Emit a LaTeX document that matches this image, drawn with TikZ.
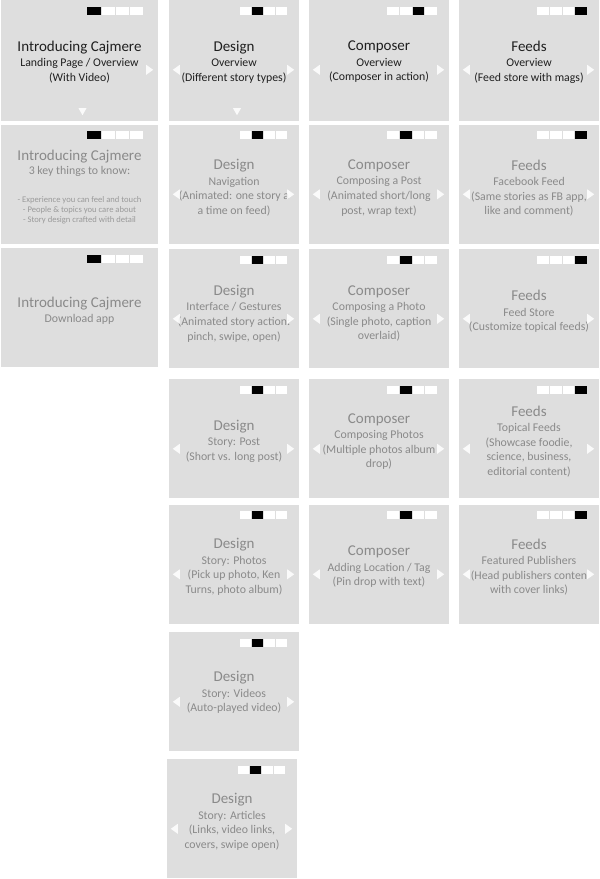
\documentclass[tikz,border=0pt]{standalone}
\usepackage{fontspec}
\setmainfont{Carlito}
\usepackage{tikz}
\usetikzlibrary{positioning,calc}
\usepackage{xcolor}

\definecolor{cardgray}{HTML}{DEDEDE}
\definecolor{textgray}{HTML}{8A8A8A}
\definecolor{bulletgray}{HTML}{9A9A9A}

\tikzset{
  card/.style={fill=cardgray,draw=none,inner sep=0pt,minimum height=119pt},
  cardtop/.style={minimum height=121pt},
  colA/.style={minimum width=157pt},
  colB/.style={minimum width=130pt},
  colC/.style={minimum width=140pt},
  cardtext/.style={align=center,inner sep=0pt,text=textgray,
    font=\fontsize{11.8}{14.7}\selectfont},
  primary/.style={text=black!88},
  navtri/.style={fill=white,opacity=0.85},
}

\newcommand{\cardtitle}[1]{{\fontsize{15}{15}\selectfont #1}}
\newcommand{\bul}[1]{{\fontsize{8.6}{9}\selectfont\color{bulletgray}#1}}

% progress squares: card, active square, square width, right margin
\newcommand{\progbar}[4]{%
  \foreach \k in {1,...,4}{%
    \ifnum\k=#2\relax\def\cellfill{black}\else\def\cellfill{white}\fi
    \fill[\cellfill]
    ($(#1.north east)+({-#4-(5-\k)*#3-(4-\k)},7)$)
    rectangle
    ++(#3,8);
  }%
}
\newcommand{\navleft}[1]{%
  \fill[navtri]
  ($(#1.north west)+(4,70)$) -- ++(7,-5) -- ++(0,10) -- cycle;}
\newcommand{\navright}[1]{%
  \fill[navtri]
  ($(#1.north east)+(-5,70)$) -- ++(-7,-5) -- ++(0,10) -- cycle;}
\newcommand{\navdown}[1]{%
  \fill[navtri]
  ($(#1.south)+(3,-6)$) -- ++(-4,-7) -- ++(8,0) -- cycle;}

\begin{document}
\begin{tikzpicture}[x=1pt,y=-1pt]

  \fill[white]
  (0,0)
  rectangle
  (600,879);
  \useasboundingbox
  (0,0)
  rectangle
  (600,879);

  % cards
  \node[card,cardtop,colA] (intro1) at (79.5,60.5) {};
  \node[card,cardtop,colB] (design1) at (234,60.5) {};
  \node[card,cardtop,colC] (composer1) at (379,60.5) {};
  \node[card,cardtop,colC] (feeds1) at (529,60.5) {};

  \node[card,colA] (intro2) at (79.5,184) {};
  \node[card,colB] (design2) at (234,184) {};
  \node[card,colC] (composer2) at (379,184) {};
  \node[card,colC] (feeds2) at (529,184) {};

  \node[card,colA] (intro3) at (79.5,307.5) {};
  \node[card,colB] (design3) at (234,308.5) {};
  \node[card,colC] (composer3) at (379,308.5) {};
  \node[card,colC] (feeds3) at (529,308.5) {};

  \node[card,colB] (design4) at (234,438.5) {};
  \node[card,colC] (composer4) at (379,438.5) {};
  \node[card,colC] (feeds4) at (529,438.5) {};

  \node[card,colB] (design5) at (234,564) {};
  \node[card,colC] (composer5) at (379,564) {};
  \node[card,colC] (feeds5) at (529,564) {};

  \node[card,colB] (design6) at (234,691.5) {};
  \node[card,colB] (design7) at (232,818.5) {};

  % texts
  \node[cardtext,primary] (intro1-txt) at ([yshift=-1.5pt]intro1.center)
  {\cardtitle{Introducing Cajmere}\\[0.6pt] Landing Page / Overview\\ (With Video)};
  \node[cardtext,primary] (design1-txt) at ([yshift=-1.5pt]design1.center)
  {\cardtitle{Design}\\[0.6pt] Overview\\ (Different story types)};
  \node[cardtext,primary] (composer1-txt) at ([yshift=-1.5pt]composer1.center)
  {\cardtitle{Composer}\\[0.6pt] Overview\\ (Composer in action)};
  \node[cardtext,primary] (feeds1-txt) at ([yshift=-1.5pt]feeds1.center)
  {\cardtitle{Feeds}\\[0.6pt] Overview\\ (Feed store with mags)};

  \node[cardtext] (intro2-txt) at ([yshift=-3pt]intro2.center)
  {\cardtitle{Introducing Cajmere}\\[-0.6pt] 3 key things to know:\\[13pt]
   \bul{- Experience you can feel and touch}\\[-4.4pt]
   \bul{- People \& topics you care about}\\[-4.4pt]
   \bul{- Story design crafted with detail}};
  \node[cardtext] (design2-txt) at ([yshift=-4pt]design2.center)
  {\cardtitle{Design}\\[0.6pt] Navigation\\ (Animated: one story a\\ a time on feed)};
  \node[cardtext] (composer2-txt) at ([yshift=-4pt]composer2.center)
  {\cardtitle{Composer}\\[0.6pt] Composing a Post\\ (Animated short/long\\ post, wrap text)};
  \node[cardtext] (feeds2-txt) at ([yshift=-4pt]feeds2.center)
  {\cardtitle{Feeds}\\[0.6pt] Facebook Feed\\ (Same stories as FB app,\\ like and comment)};

  \node[cardtext] (intro3-txt) at ([yshift=-3pt]intro3.center)
  {\cardtitle{Introducing Cajmere}\\[0.6pt] Download app};
  \node[cardtext] (design3-txt) at ([yshift=-5pt]design3.center)
  {\cardtitle{Design}\\[0.6pt] Interface / Gestures\\ (Animated story action:\\ pinch, swipe, open)};
  \node[cardtext] (composer3-txt) at ([yshift=-5pt]composer3.center)
  {\cardtitle{Composer}\\[0.6pt] Composing a Photo\\ (Single photo, caption\\ overlaid)};
  \node[cardtext] (feeds3-txt) at ([yshift=-3pt]feeds3.center)
  {\cardtitle{Feeds}\\[0.6pt] Feed Store\\ (Customize topical feeds)};

  \node[cardtext] (design4-txt) at ([yshift=-3pt]design4.center)
  {\cardtitle{Design}\\[0.6pt] Story: Post\\ (Short vs. long post)};
  \node[cardtext] (composer4-txt) at ([yshift=-3pt]composer4.center)
  {\cardtitle{Composer}\\[0.6pt] Composing Photos\\ (Multiple photos album\\ drop)};
  \node[cardtext] (feeds4-txt) at ([yshift=-3pt]feeds4.center)
  {\cardtitle{Feeds}\\[0.6pt] Topical Feeds\\ (Showcase foodie,\\ science, business,\\ editorial content)};

  \node[cardtext] (design5-txt) at ([yshift=-3pt]design5.center)
  {\cardtitle{Design}\\[0.6pt] Story: Photos\\ (Pick up photo, Ken\\ Turns, photo album)};
  \node[cardtext] (composer5-txt) at ([yshift=-3pt]composer5.center)
  {\cardtitle{Composer}\\[0.6pt] Adding Location / Tag\\ (Pin drop with text)};
  \node[cardtext] (feeds5-txt) at ([yshift=-3pt]feeds5.center)
  {\cardtitle{Feeds}\\[0.6pt] Featured Publishers\\ (Head publishers conten\\ with cover links)};

  \node[cardtext] (design6-txt) at ([yshift=-1pt]design6.center)
  {\cardtitle{Design}\\[0.6pt] Story: Videos\\ (Auto-played video)};
  \node[cardtext] (design7-txt) at ([yshift=-3.5pt]design7.center)
  {\cardtitle{Design}\\[0.6pt] Story: Articles\\ (Links, video links,\\ covers, swipe open)};

  % progress squares
  \progbar{intro1}{1}{13.2}{15}
  \progbar{intro2}{1}{13.2}{15}
  \progbar{intro3}{1}{13.2}{15}
  \progbar{design1}{2}{11}{12}
  \progbar{design2}{2}{11}{12}
  \progbar{design3}{2}{11}{12}
  \progbar{design4}{2}{11}{12}
  \progbar{design5}{2}{11}{12}
  \progbar{design6}{2}{11}{12}
  \progbar{design7}{2}{11}{12}
  \progbar{composer1}{3}{11.6}{12.5}
  \progbar{composer2}{2}{11.6}{12.5}
  \progbar{composer3}{2}{11.6}{12.5}
  \progbar{composer4}{2}{11.6}{12.5}
  \progbar{composer5}{2}{11.6}{12.5}
  \progbar{feeds1}{4}{11.6}{12.5}
  \progbar{feeds2}{4}{11.6}{12.5}
  \progbar{feeds3}{4}{11.6}{12.5}
  \progbar{feeds4}{4}{11.6}{12.5}
  \progbar{feeds5}{4}{11.6}{12.5}

  % navigation triangles
  \navright{intro1}
  \navdown{intro1}
  \navdown{design1}
  \foreach \c in {design1,composer1,feeds1,design2,composer2,feeds2,
    design3,composer3,feeds3,design4,composer4,feeds4,
    design5,composer5,feeds5,design6,design7}{
    \navleft{\c}
    \navright{\c}
  }

\end{tikzpicture}
\end{document}
